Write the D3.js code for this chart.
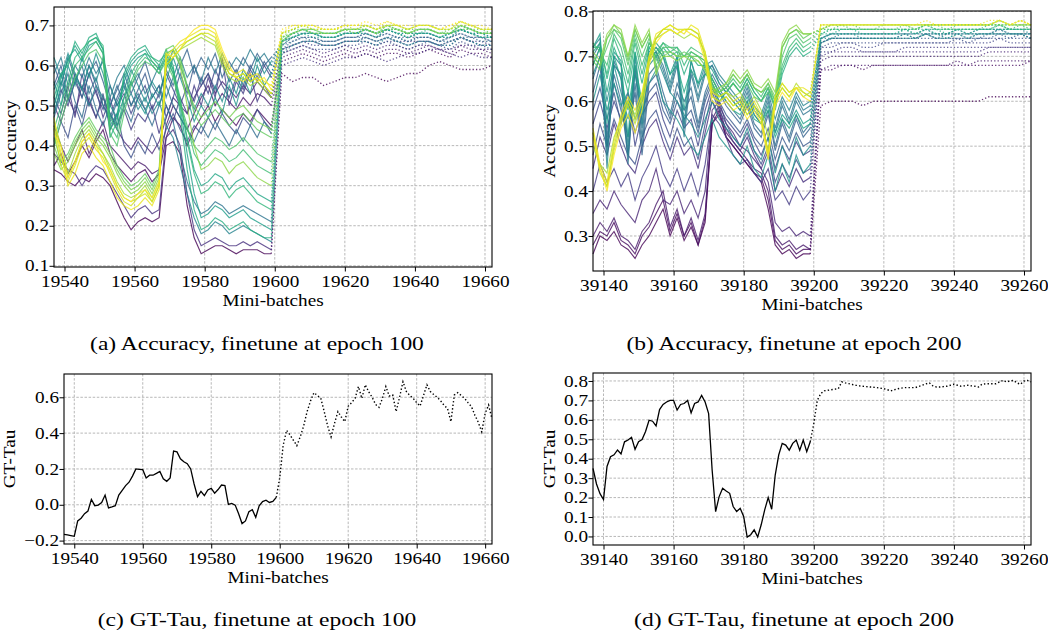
<!DOCTYPE html>
<html>
<head>
<meta charset="utf-8">
<script src="https://cdn.jsdelivr.net/npm/d3@7"></script>
<style>
  body { margin: 0; background: #fff; }
  svg { display: block; }
  text { font-family: "Liberation Serif", "Times New Roman", serif; fill: #000; }
</style>
</head>
<body>
<svg id="fig" width="1048" height="635"></svg>
<script>
// ---- DATA ----
// mini-batch positions of the sampled accuracy points (solid part, then dotted part)
const stepsA = [...d3.range(19537, 19600, 2), ...d3.range(19602, 19663, 3)];
const stepsB = [...d3.range(39137, 39200, 2), ...d3.range(39202, 39263, 3)];
const switchA = 19599;
const switchB = 39199;

// accuracy of each candidate, in hundredths (first = purple ... last = yellow)
const accA = [
  [34,33,31,30,32,31,33,32,30,26,22,19,21,22,21,22,40,41,38,25,17,13,14,15,15,14,13,14,14,14,13,13, 58,56,57,57,55,56,57,57,58,57,56,57,58,58,60,61,60,59,59,59,60],
  [35,38,33,36,40,37,41,44,38,35,33,31,33,34,31,33,42,47,45,40,44,47,50,46,49,47,45,48,46,49,47,45, 61,62,63,62,61,62,63,62,63,62,63,63,62,63,64,63,62,64,63,63,62],
  [45,40,36,40,44,38,42,46,40,38,36,34,36,35,33,34,45,50,47,44,48,52,55,50,53,51,49,52,50,53,52,50, 62,63,64,63,62,63,64,63,64,63,64,64,63,64,65,64,63,65,64,64,63],
  [50,46,52,48,55,51,47,52,48,44,41,39,42,40,38,41,47,52,50,48,52,55,58,53,56,54,52,55,53,56,54,52, 63,64,65,64,63,64,65,64,65,64,65,65,64,65,65,64,64,65,65,64,64],
  [38,36,34,33,30,33,35,34,31,28,25,22,24,25,23,24,42,44,40,28,19,15,16,17,16,15,15,16,15,16,15,14, 60,61,62,61,60,61,62,62,63,62,61,62,63,63,64,64,63,62,63,62,62],
  [52,48,55,47,58,50,54,47,52,45,49,44,48,46,50,43,50,46,52,48,55,50,57,52,62,50,56,53,58,51,55,52, 64,65,66,66,65,65,66,66,67,66,67,66,66,66,66,65,66,67,66,66,65],
  [48,54,50,56,52,58,53,49,55,50,53,48,52,55,49,53,58,54,50,55,51,57,53,59,55,52,57,54,59,56,60,57, 64,65,66,65,65,65,66,66,66,65,66,66,65,66,66,65,65,67,66,65,65],
  [40,46,42,50,45,52,47,53,44,48,40,37,41,38,43,39,44,48,44,41,45,43,47,44,48,45,43,47,45,49,46,44, 63,64,65,64,64,64,65,65,66,65,66,65,64,65,66,65,64,66,65,65,64],
  [55,60,52,58,54,60,55,50,47,52,56,50,54,58,52,55,47,52,58,53,60,55,58,54,61,56,59,55,60,57,61,58, 65,66,67,67,66,66,67,67,68,67,68,67,67,67,67,66,67,68,67,67,66],
  [60,55,62,57,52,58,61,56,50,54,58,53,57,61,55,52,59,55,60,64,58,62,59,63,57,61,58,62,59,63,60,62, 65,67,67,67,66,66,67,67,68,67,68,67,66,67,67,66,67,68,67,67,66],
  [47,53,58,51,47,55,49,45,50,55,50,46,52,49,45,50,55,50,47,44,41,45,42,46,43,40,44,41,45,42,46,43, 64,66,67,66,66,66,67,67,67,66,67,67,66,67,67,66,66,67,67,66,66],
  [54,58,51,56,60,53,57,50,46,51,55,50,53,49,52,55,50,46,38,31,26,23,24,26,25,23,24,25,24,23,22,21, 64,65,66,66,65,65,66,66,67,66,67,66,65,66,66,65,66,67,66,65,65],
  [58,62,55,60,57,62,58,61,52,57,60,55,58,53,56,60,52,57,62,57,60,56,62,58,63,59,62,60,64,61,63,60, 66,67,68,68,67,67,68,68,68,67,69,68,67,68,68,67,67,69,68,67,67],
  [50,56,52,57,54,50,55,52,48,45,50,53,49,52,48,51,45,42,35,28,22,18,19,21,20,18,19,20,19,18,17,16, 63,65,66,66,65,65,66,66,66,65,67,66,65,66,66,65,65,67,66,65,65],
  [62,57,63,58,54,60,56,62,55,50,54,59,55,51,56,53,59,64,60,55,49,53,50,55,51,57,53,59,56,62,58,61, 66,68,68,68,67,67,68,68,69,68,69,68,68,68,68,67,68,69,68,68,67],
  [56,50,60,55,62,57,63,58,50,47,52,56,51,48,53,50,56,62,57,52,46,50,47,52,48,55,50,57,53,60,55,58, 66,67,68,68,67,67,68,68,69,68,69,68,68,68,68,67,68,69,68,68,67],
  [48,55,62,64,61,65,66,63,45,48,56,60,62,63,60,58,62,58,50,38,28,22,23,25,24,22,23,24,22,21,20,19, 65,67,68,67,67,67,68,68,68,67,69,68,67,68,68,67,67,69,68,67,67],
  [50,57,61,65,62,66,67,64,44,47,57,61,63,64,61,59,63,59,51,42,34,30,31,33,32,29,31,32,30,28,27,26, 66,67,68,68,67,67,68,68,69,68,69,68,67,68,68,67,68,69,68,67,67],
  [52,58,60,66,63,67,68,64,42,46,58,62,64,65,62,60,64,60,48,34,24,19,20,22,21,19,20,21,19,18,17,17, 66,68,69,68,68,68,68,68,69,68,69,69,68,68,69,68,68,69,69,68,68],
  [44,50,56,62,64,66,67,65,47,44,52,58,61,63,62,61,63,59,52,41,33,28,29,31,30,27,29,30,28,26,25,24, 66,68,69,68,68,68,69,68,69,68,69,69,68,69,69,68,68,70,69,68,68],
  [41,48,54,60,62,64,66,63,45,42,50,56,60,62,61,59,62,58,51,45,38,35,37,39,38,36,37,39,37,35,34,33, 66,68,69,68,68,68,69,69,69,68,69,69,68,69,69,68,68,70,69,68,68],
  [40,46,52,57,60,63,64,61,43,40,48,55,59,61,60,58,61,57,50,44,40,38,40,42,41,39,40,42,40,38,37,36, 67,68,69,69,68,68,69,69,69,68,70,69,68,69,69,68,68,70,69,68,68],
  [42,36,38,42,45,47,44,42,40,35,32,30,31,33,30,34,64,65,62,55,48,45,47,49,47,45,47,48,46,44,43,42, 67,69,69,69,68,68,69,69,70,69,70,69,69,69,69,68,69,70,69,69,68],
  [40,35,37,41,44,46,43,41,38,34,31,29,30,32,29,33,63,64,61,54,50,47,49,51,49,47,49,50,48,46,45,44, 67,68,69,69,68,68,69,69,69,68,70,69,68,69,69,68,68,70,69,68,68],
  [38,34,36,40,43,45,42,40,37,33,30,28,29,31,28,32,63,64,60,50,40,34,35,37,36,33,35,36,34,32,31,30, 66,68,69,68,68,68,69,68,69,68,69,69,68,69,69,68,68,69,69,68,68],
  [46,40,33,38,42,44,41,38,35,31,28,27,28,30,27,31,60,62,64,65,66,67,66,65,60,57,56,57,55,56,54,52, 68,69,70,69,69,69,69,69,70,69,70,70,69,70,70,69,69,70,70,69,69],
  [45,37,32,36,41,43,40,38,34,30,27,26,27,29,26,30,60,62,64,66,67,68,67,66,61,58,57,58,56,57,55,53, 68,69,70,69,69,69,70,69,70,69,70,70,69,70,70,69,69,71,70,69,69],
  [44,35,31,35,40,42,39,37,33,29,26,25,27,28,26,30,61,63,65,66,67,68,68,67,62,58,57,58,56,57,55,53, 68,69,70,70,69,69,70,70,70,69,70,70,69,70,70,69,69,71,70,69,69],
  [47,38,30,33,38,40,37,35,31,27,25,24,25,27,25,29,62,64,66,67,68,69,69,68,63,59,58,59,57,58,56,55, 68,70,70,70,69,69,70,70,70,69,71,70,69,70,70,69,70,71,70,69,69],
  [43,40,32,36,41,43,40,36,34,30,27,26,28,29,27,31,63,62,64,67,69,70,70,69,64,60,57,56,58,56,57,54, 69,70,70,70,69,69,70,70,71,70,71,70,70,70,70,69,70,71,70,70,69]
];

const accB = [
  [26,30,29,31,28,27,25,28,30,33,36,30,34,29,32,28,33,55,58,52,50,48,46,44,42,36,28,26,27,25,26,26, 59,60,60,60,59,60,60,60,60,60,60,60,60,60,60,60,61,61,61,61,61],
  [28,31,30,33,29,28,26,30,32,35,38,31,35,30,33,28,34,55,57,52,50,48,46,44,43,38,29,27,28,26,27,27, 67,67,68,68,67,68,68,68,68,68,68,68,68,68,68,68,68,68,68,68,69],
  [30,33,31,34,30,29,27,31,33,37,40,32,36,30,34,29,35,56,59,53,51,49,47,45,44,40,30,28,29,27,28,27, 67,68,68,68,68,68,68,68,68,68,68,68,68,69,68,69,69,69,69,69,69],
  [35,38,36,40,37,35,33,38,40,45,38,37,40,35,38,34,40,58,60,55,53,50,49,47,45,42,33,31,32,30,31,30, 69,70,70,70,70,70,70,70,70,70,70,70,70,70,70,70,71,71,71,71,71],
  [45,52,48,55,50,46,44,50,54,56,51,47,52,48,50,45,53,60,57,54,51,49,52,48,45,49,40,44,41,45,42,43, 70,71,71,71,71,71,71,71,71,71,71,71,71,71,71,71,72,72,72,72,72],
  [40,46,42,45,41,44,38,43,46,50,44,41,45,40,44,39,46,57,55,52,48,46,47,44,42,45,38,40,37,41,38,40, 71,71,72,72,71,71,71,71,72,72,72,72,72,72,72,72,72,72,72,72,72],
  [55,60,54,60,56,62,50,57,60,62,56,52,58,54,56,50,58,63,59,56,54,52,55,51,48,52,45,50,47,51,48,49, 72,72,73,73,72,72,73,73,73,73,73,73,73,73,73,73,73,74,73,73,73],
  [48,55,50,56,52,48,46,52,56,58,53,49,54,50,52,47,55,62,58,55,52,50,53,49,46,50,42,46,43,47,44,45, 72,73,73,73,73,73,73,73,73,73,73,73,73,74,73,74,74,74,74,74,74],
  [58,63,56,62,55,60,53,58,62,64,58,55,60,56,58,53,60,64,60,57,55,53,56,52,50,54,47,52,49,53,50,51, 73,74,74,74,74,74,74,74,74,74,74,74,74,74,74,74,74,75,74,75,74],
  [62,68,50,64,58,52,62,48,64,66,60,56,62,58,61,54,61,65,62,59,57,55,59,54,52,57,49,55,51,56,52,54, 73,74,74,74,74,74,74,74,74,74,75,74,74,74,74,74,75,75,75,75,74],
  [65,70,52,66,60,48,64,50,66,68,62,57,64,60,63,55,62,66,63,60,58,56,60,55,53,58,50,56,52,57,53,55, 73,74,74,74,74,74,74,74,75,74,75,74,75,75,74,75,75,75,75,75,75],
  [70,73,48,69,65,46,67,52,69,71,67,62,68,52,66,60,66,68,64,62,60,58,62,57,55,60,53,59,55,60,57,58, 74,75,75,75,75,75,75,75,75,75,75,75,75,75,75,75,75,76,75,75,75],
  [68,72,50,68,66,48,68,54,70,71,68,63,69,54,67,61,67,68,65,63,61,59,63,58,56,61,54,60,56,61,58,59, 74,75,75,75,75,75,75,75,75,75,75,75,75,75,75,75,75,76,75,75,75],
  [72,74,45,70,68,50,70,55,71,72,70,64,70,55,69,63,68,69,66,64,62,60,64,59,57,62,56,61,58,62,59,60, 74,75,75,75,75,75,75,75,75,75,76,75,75,76,75,76,76,76,76,76,75],
  [66,70,60,68,62,56,66,58,68,70,66,62,60,57,55,52,56,60,56,54,52,50,54,49,47,52,44,50,46,52,48,50, 74,74,75,75,74,74,74,74,75,74,75,75,74,75,75,75,75,75,75,75,75],
  [60,66,58,64,59,62,56,60,64,67,60,58,56,53,50,48,52,56,52,50,48,46,50,45,43,48,40,46,42,48,44,46, 73,74,74,74,74,74,74,74,74,74,75,74,74,75,74,75,75,75,75,75,74],
  [72,75,55,71,69,52,71,57,72,73,71,66,70,58,69,64,69,67,64,62,60,58,61,57,55,59,53,57,55,58,55,56, 74,75,75,75,75,75,75,75,76,75,76,75,75,76,75,76,76,76,76,76,76],
  [68,72,62,70,65,58,68,60,70,72,70,66,68,62,67,64,66,65,62,60,58,57,60,56,55,58,52,56,54,57,54,55, 75,75,76,76,75,75,75,75,76,75,76,76,75,76,76,76,76,76,76,76,76],
  [71,73,65,72,68,62,71,64,72,70,72,70,71,66,70,68,68,63,60,62,64,62,65,62,60,63,58,66,70,72,70,71, 75,76,76,76,76,76,76,76,76,76,76,76,76,76,76,76,76,77,76,76,76],
  [72,72,66,74,70,64,73,66,73,71,73,71,72,68,71,70,69,64,61,62,64,62,65,62,60,63,59,67,71,73,71,72, 75,76,76,76,76,76,76,76,76,76,77,76,76,76,76,76,76,77,76,76,76],
  [73,71,68,75,72,66,74,68,73,70,73,72,72,70,72,71,70,65,62,63,65,63,66,63,61,64,60,68,72,74,72,73, 76,76,76,76,76,76,76,76,76,76,77,76,76,76,76,76,77,77,76,77,76],
  [70,68,72,76,74,68,75,70,74,69,72,72,71,70,71,70,69,64,61,62,64,62,64,61,60,62,59,70,74,75,73,74, 76,76,77,76,76,76,76,76,77,76,77,77,76,77,77,77,77,77,77,77,77],
  [69,67,74,76,75,69,76,72,75,68,71,71,70,71,70,70,68,63,62,63,66,64,66,63,62,63,60,72,75,76,74,75, 76,77,77,77,76,76,77,77,77,76,77,77,77,77,77,77,77,77,77,77,77],
  [70,68,74,77,75,70,76,72,75,67,70,71,70,70,70,69,67,63,62,64,66,64,66,63,62,64,61,72,75,76,75,75, 76,77,77,77,77,77,77,77,77,77,77,77,77,77,77,77,77,77,77,77,77],
  [71,69,75,77,76,70,77,73,76,66,70,70,69,70,69,69,67,62,63,64,67,65,67,64,63,65,62,73,76,77,75,75, 76,77,77,77,77,77,77,77,77,77,77,77,77,77,77,77,77,78,77,77,77],
  [50,46,44,52,56,60,57,61,70,74,75,76,75,74,75,74,71,63,61,62,61,62,59,61,58,52,61,64,62,63,61,62, 76,77,77,77,77,77,77,77,77,77,77,77,77,77,77,77,77,78,77,77,77],
  [53,44,41,50,56,59,55,60,69,74,76,76,75,76,76,75,70,61,60,61,59,60,57,59,56,49,60,63,61,64,62,61, 77,77,77,77,77,77,77,77,77,77,77,77,77,77,77,77,77,78,77,78,77],
  [53,45,41,49,55,60,56,61,69,74,76,77,76,76,76,75,70,61,60,61,59,60,57,59,56,48,60,63,61,63,62,61, 77,77,77,77,77,77,77,77,77,77,77,77,77,77,77,77,77,78,77,78,77],
  [54,46,42,51,57,61,58,62,70,75,76,77,76,75,77,76,71,62,61,62,60,61,58,60,57,48,61,64,62,63,63,62, 77,77,77,77,77,77,77,77,77,77,77,77,77,77,77,77,78,78,77,78,77],
  [52,45,40,48,54,57,53,58,68,73,75,76,75,76,75,74,69,60,59,60,58,59,56,58,55,47,59,62,60,63,61,60, 77,77,77,77,77,77,77,77,77,77,78,77,77,77,77,77,77,78,77,78,77]
];

// GT-Tau, one value per mini-batch
const tauStepsA = d3.range(19537, 19663);
const tauA = [
  -0.165,-0.168,-0.172,-0.176,-0.09,-0.075,-0.05,-0.035,0.03,-0.005,
  -0.002,0.012,0.054,-0.018,-0.012,-0.005,0.054,0.08,0.107,0.126,
  0.16,0.2,0.198,0.196,0.15,0.165,0.165,0.175,0.186,0.145,
  0.131,0.15,0.3,0.295,0.257,0.24,0.229,0.2,0.116,0.045,
  0.075,0.051,0.083,0.092,0.065,0.085,0.11,0.107,0.002,0.008,
  -0.002,-0.05,-0.105,-0.09,-0.039,-0.028,-0.07,-0.006,0.018,0.026,
  0.013,0.019,0.041,0.15,0.33,0.416,0.39,0.36,0.33,0.38,
  0.44,0.52,0.58,0.626,0.61,0.594,0.52,0.44,0.379,0.454,
  0.52,0.49,0.464,0.55,0.57,0.594,0.66,0.594,0.67,0.63,
  0.6,0.56,0.544,0.594,0.66,0.607,0.613,0.52,0.6,0.687,
  0.632,0.61,0.594,0.57,0.551,0.61,0.67,0.632,0.615,0.6,
  0.58,0.555,0.538,0.464,0.613,0.626,0.61,0.594,0.57,0.548,
  0.5,0.46,0.407,0.51,0.557,0.48
];
const tauStepsB = d3.range(39137, 39263);
const tauB = [
  0.35,0.27,0.22,0.19,0.36,0.41,0.42,0.445,0.425,0.487,
  0.496,0.51,0.448,0.487,0.499,0.54,0.598,0.593,0.569,0.653,
  0.679,0.692,0.70,0.70,0.65,0.679,0.684,0.70,0.636,0.684,
  0.692,0.726,0.692,0.632,0.342,0.128,0.205,0.248,0.234,0.222,
  0.154,0.128,0.145,0.103,-0.003,0.009,0.034,-0.003,0.06,0.137,
  0.2,0.14,0.316,0.419,0.479,0.47,0.444,0.479,0.496,0.444,
  0.496,0.436,0.487,0.58,0.70,0.735,0.749,0.752,0.755,0.758,
  0.76,0.795,0.79,0.786,0.782,0.778,0.775,0.773,0.771,0.769,
  0.768,0.766,0.763,0.76,0.755,0.749,0.755,0.76,0.763,0.766,
  0.766,0.766,0.766,0.772,0.778,0.785,0.79,0.775,0.769,0.769,
  0.771,0.773,0.778,0.783,0.778,0.773,0.775,0.778,0.775,0.773,
  0.769,0.783,0.785,0.786,0.786,0.786,0.795,0.803,0.795,0.8,
  0.803,0.79,0.783,0.8,0.803,0.795
];

// ticks
const xTicksA = [19540, 19560, 19580, 19600, 19620, 19640, 19660];
const xTicksB = [39140, 39160, 39180, 39200, 39220, 39240, 39260];
const yTicksAccA = [0.1, 0.2, 0.3, 0.4, 0.5, 0.6, 0.7];
const yTicksAccB = [0.3, 0.4, 0.5, 0.6, 0.7, 0.8];
const yTicksTauA = [-0.2, 0.0, 0.2, 0.4, 0.6];
const yTicksTauB = [0.0, 0.1, 0.2, 0.3, 0.4, 0.5, 0.6, 0.7, 0.8];

const captions = [
  "(a) Accuracy, finetune at epoch 100",
  "(b) Accuracy, finetune at epoch 200",
  "(c) GT-Tau, finetune at epoch 100",
  "(d) GT-Tau, finetune at epoch 200"
];

// ---- DRAWING ----
const svg = d3.select("#fig");
const fmt = d3.format(".1f");
const SX = 1.2; // glyphs in the figure are wider than tall

function widen(sel) {
  sel.each(function () {
    const t = d3.select(this);
    const x = +t.attr("x") || 0;
    t.attr("x", x / SX).attr("transform", `scale(${SX},1)`);
  });
}

function panel(box, xDomain, yDomain, xTicks, yTicks, ylab) {
  const x = d3.scaleLinear().domain(xDomain).range([box.l, box.r]);
  const y = d3.scaleLinear().domain(yDomain).range([box.b, box.t]);
  const g = svg.append("g");

  // grid
  g.append("g").selectAll("line").data(xTicks).join("line")
    .attr("x1", d => x(d)).attr("x2", d => x(d))
    .attr("y1", box.t).attr("y2", box.b);
  g.append("g").selectAll("line").data(yTicks).join("line")
    .attr("x1", box.l).attr("x2", box.r)
    .attr("y1", d => y(d)).attr("y2", d => y(d));
  g.selectAll("line")
    .attr("stroke", "#b0b0b0").attr("stroke-width", 0.9)
    .attr("stroke-dasharray", "2.5,1.6");

  const xAxis = g.append("g").attr("transform", `translate(0,${box.b})`)
    .call(d3.axisBottom(x).tickValues(xTicks).tickFormat(d3.format("d")).tickSize(4.5).tickSizeOuter(0).tickPadding(4.6));
  const yAxis = g.append("g").attr("transform", `translate(${box.l},0)`)
    .call(d3.axisLeft(y).tickValues(yTicks).tickFormat(fmt).tickSize(4.5).tickSizeOuter(0).tickPadding(0.5));
  [xAxis, yAxis].forEach(a => {
    a.select(".domain").remove();
    a.selectAll("text").style("font-size", "16px").attr("fill", "#000").call(widen);
    a.selectAll("line").attr("stroke", "#000");
  });

  const plot = svg.append("g");
  // frame on top
  svg.append("rect").attr("x", box.l).attr("y", box.t)
    .attr("width", box.r - box.l).attr("height", box.b - box.t)
    .attr("fill", "none").attr("stroke", "#000").attr("stroke-width", 1.1);

  svg.append("text")
    .attr("transform", `translate(${(box.l + box.r) / 2},${box.b + 38.5}) scale(${SX},1)`)
    .attr("text-anchor", "middle").style("font-size", "16px").text("Mini-batches");
  svg.append("text")
    .attr("transform", `translate(${box.yl},${(box.t + box.b) / 2}) rotate(-90) scale(${SX},1)`)
    .attr("text-anchor", "middle").style("font-size", "16px").text(ylab);

  return {x, y, plot};
}

function drawAcc(p, steps, data, switchAt) {
  const line = d3.line().x(d => p.x(d[0])).y(d => p.y(d[1]));
  const n = data.length;
  const cut = steps.indexOf(switchAt);
  data.forEach((vals, k) => {
    const pts = steps.map((s, i) => [s, vals[i] / 100]);
    const col = d3.interpolateViridis(k / (n - 1));
    p.plot.append("path").attr("d", line(pts.slice(0, cut + 1)))
      .attr("fill", "none").attr("stroke", col).attr("stroke-width", 1.15)
      .attr("stroke-opacity", 0.8);
    p.plot.append("path").attr("d", line(pts.slice(cut)))
      .attr("fill", "none").attr("stroke", col).attr("stroke-width", 1.3)
      .attr("stroke-opacity", 0.8).attr("stroke-dasharray", "1.3,2.1");
  });
}

function drawTau(p, steps, vals, switchAt) {
  const line = d3.line().x(d => p.x(d[0])).y(d => p.y(d[1]));
  const pts = steps.map((s, i) => [s, vals[i]]);
  const cut = steps.indexOf(switchAt);
  p.plot.append("path").attr("d", line(pts.slice(0, cut + 1)))
    .attr("fill", "none").attr("stroke", "#000").attr("stroke-width", 1.3);
  p.plot.append("path").attr("d", line(pts.slice(cut)))
    .attr("fill", "none").attr("stroke", "#000").attr("stroke-width", 1.4)
    .attr("stroke-dasharray", "1.4,2.2");
}

const pA = panel({l: 54, r: 492, t: 7, b: 267, yl: 16}, [19537, 19662], [0.097, 0.746], xTicksA, yTicksAccA, "Accuracy");
drawAcc(pA, stepsA, accA, switchA);
const pB = panel({l: 593, r: 1031, t: 11, b: 271, yl: 555}, [39137, 39262], [0.222, 0.801], xTicksB, yTicksAccB, "Accuracy");
drawAcc(pB, stepsB, accB, switchB);
const pC = panel({l: 64, r: 492, t: 374, b: 544, yl: 15}, [19537, 19662], [-0.219, 0.730], xTicksA, yTicksTauA, "GT-Tau");
drawTau(pC, tauStepsA, tauA, switchA);
const pD = panel({l: 593, r: 1031, t: 373, b: 545, yl: 555}, [39137, 39262], [-0.044, 0.841], xTicksB, yTicksTauB, "GT-Tau");
drawTau(pD, tauStepsB, tauB, switchB);

// sub-figure captions
const capPos = [[257, 350], [794, 350], [257, 626], [794, 626]];
captions.forEach((c, i) => {
  svg.append("text")
    .attr("transform", `translate(${capPos[i][0]},${capPos[i][1]}) scale(${SX},1)`)
    .attr("text-anchor", "middle").style("font-size", "19.6px").text(c);
});
</script>
</body>
</html>
